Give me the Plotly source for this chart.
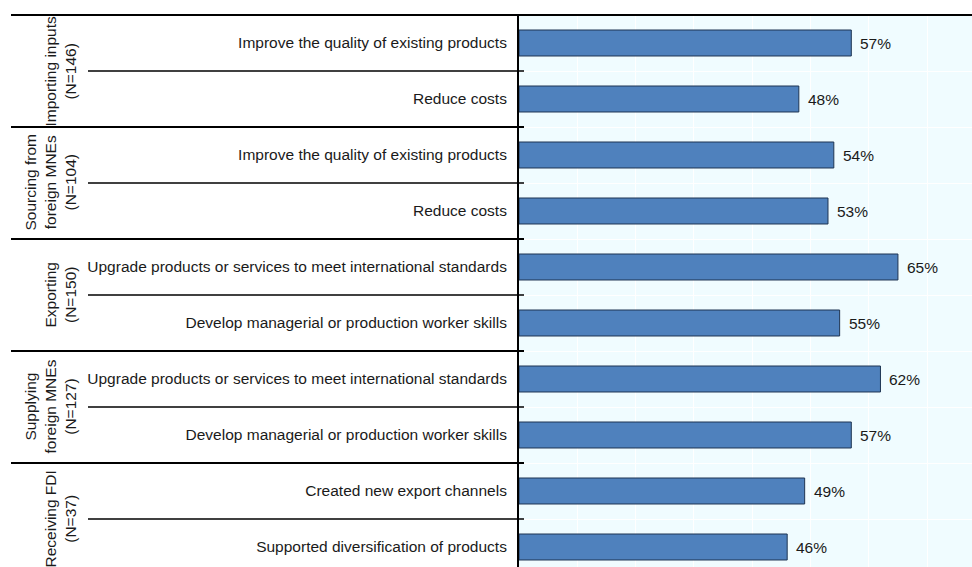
import plotly.graph_objects as go

categories = [
    "Improve the quality of existing products",
    "Reduce costs",
    "Improve the quality of existing products",
    "Reduce costs",
    "Upgrade products or services to meet international standards",
    "Develop managerial or production worker skills",
    "Upgrade products or services to meet international standards",
    "Develop managerial or production worker skills",
    "Created new export channels",
    "Supported diversification of products",
]
values = [57, 48, 54, 53, 65, 55, 62, 57, 49, 46]
groups = [
    "Importing inputs<br>(N=146)",
    "Sourcing from<br>foreign MNEs<br>(N=104)",
    "Exporting<br>(N=150)",
    "Supplying<br>foreign MNEs<br>(N=127)",
    "Receiving FDI<br>(N=37)",
]
group_sizes = [2, 2, 2, 2, 2]
value_labels = [f"{v}%" for v in values]

W, H = 972, 567
ML, MT = 519, 15
PW = W - ML
ROW_PX = 56
PH = H - MT
FONT = "Liberation Sans, Arial, sans-serif"
FS = 15.5
TXT = "#1a1a1a"


def px2paper(px):
    return (px - ML) / PW


ypos = list(range(len(categories)))

fig = go.Figure()
fig.add_trace(go.Bar(
    x=values, y=ypos, orientation="h", width=0.464,
    marker=dict(color="#4F81BD", line=dict(color="#1F3552", width=1)),
    hoverinfo="skip",
))

for v, yv, lab in zip(values, ypos, value_labels):
    fig.add_annotation(x=v, y=yv, xref="x", yref="y", text=lab, showarrow=False,
                       xanchor="left", yanchor="middle", xshift=7,
                       font=dict(family=FONT, size=FS, color=TXT))

shapes = []
shapes.append(dict(type="line", xref="paper", yref="paper", x0=px2paper(11), x1=1,
                   y0=1, y1=1, line=dict(color="black", width=2)))
start = 0
for gi, (g, n) in enumerate(zip(groups, group_sizes)):
    end = start + n
    for k in range(start, end - 1):
        shapes.append(dict(type="line", xref="paper", yref="y", x0=px2paper(88),
                           x1=px2paper(524), y0=k + 0.5, y1=k + 0.5,
                           line=dict(color="black", width=1.5)))
    if gi < len(groups) - 1:
        shapes.append(dict(type="line", xref="paper", yref="y", x0=px2paper(11),
                           x1=px2paper(524), y0=end - 0.5, y1=end - 0.5,
                           line=dict(color="black", width=2)))
    center = (start + end - 1) / 2
    fig.add_annotation(x=px2paper(80), y=center, xref="paper", yref="y", text=g,
                       showarrow=False, textangle=-90, xanchor="right", yanchor="middle",
                       font=dict(family=FONT, size=FS, color=TXT))
    start = end

fig.update_layout(
    width=W, height=H,
    margin=dict(l=ML, r=0, t=MT, b=0, pad=0),
    paper_bgcolor="white", plot_bgcolor="#F0FCFF",
    showlegend=False, shapes=shapes,
    font=dict(family=FONT, size=FS, color=TXT),
    xaxis=dict(range=[0, PW / 5.83], showgrid=True, gridcolor="white", gridwidth=1,
               dtick=10, tick0=0, showticklabels=False, zeroline=False, showline=False,
               ticks="", fixedrange=True),
    yaxis=dict(range=[-0.5 + PH / ROW_PX, -0.5], tickmode="array", tickvals=ypos,
               ticktext=categories, ticks="", showgrid=False, zeroline=False,
               showline=True, linecolor="black", linewidth=2, ticklabelstandoff=7,
               minor=dict(tickmode="array", tickvals=[k + 0.5 for k in ypos],
                          showgrid=True, gridcolor="white", gridwidth=1, ticks=""),
               tickfont=dict(family=FONT, size=FS, color=TXT), fixedrange=True),
)

fig.write_html("out.html", config={"displayModeBar": False},
               post_script="document.body.style.margin='0';")
